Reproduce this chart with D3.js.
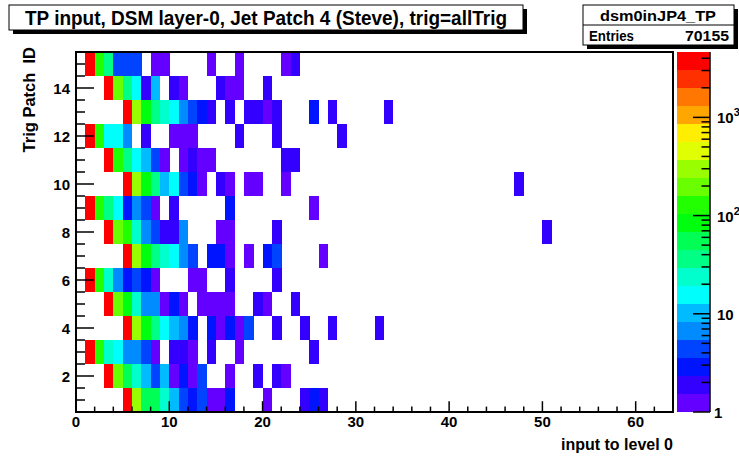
<!DOCTYPE html>
<html><head><meta charset="utf-8">
<script src="https://cdn.jsdelivr.net/npm/d3@7"></script>
<style>
html,body{margin:0;padding:0;background:#fff;}
svg text{font-family:"Liberation Sans",Arial,Helvetica,sans-serif;font-weight:bold;}
</style></head>
<body><svg id="c" width="739" height="459"></svg>
<script>
// ---------- data (counts per x bin, starting at x bin 0) ----------
const titleText = "TP input, DSM layer-0, Jet Patch 4 (Steve), trig=allTrig";
const histName = "dsm0inJP4_TP";
const entries = 70155;
const xTitle = "input to level 0";
const yTitle = "Trig Patch  ID";
const xTicks = [0, 10, 20, 30, 40, 50, 60];
const yTicks = [2, 4, 6, 8, 10, 12, 14];
const zTicks = [1, 10, 100, 1000];
const xDomain = [0, 64];
const yDomain = [0.5, 15.5];
const patchIds = [15, 14, 13, 12, 11, 10, 9, 8, 7, 6, 5, 4, 3, 2, 1];

const patch15 = [0,4210,130,37,4,4,4,0,1,1,0,0,0,0,1,0,0,1,0,0,0,0,1,2];
const patch14 = [0,0,0,4190,200,37,16,2,10,0,2,1,0,0,0,2,1,1,0,0,2];
const patch13 = [0,0,0,0,0,4170,305,86,37,24,16,7,4,3,2,0,2,0,2,2,1,2,0,0,0,3,0,2,0,0,0,0,0,2];
const patch12 = [0,4200,130,16,16,7,0,2,0,0,1,1,1,0,0,0,0,2,0,0,0,2,0,0,0,0,0,0,2];
const patch11 = [0,0,0,4180,130,37,16,10,4,1,0,1,2,1,1,0,0,0,0,0,0,0,2,2];
const patch10 = [0,0,0,0,0,4170,305,86,37,10,16,4,3,1,0,2,1,0,1,1,0,0,1,0,0,0,0,0,0,0,0,0,0,0,0,0,0,0,0,0,0,0,0,0,0,0,0,2];
const patch9  = [0,4200,130,37,16,3,7,4,1,0,2,0,0,0,0,0,3,0,0,0,0,0,0,0,0,1];
const patch8  = [0,0,0,4180,200,130,24,7,4,2,2,7,0,0,0,1,1,0,0,0,0,2,0,0,0,0,0,0,0,0,0,0,0,0,0,0,0,0,0,0,0,0,0,0,0,0,0,0,0,0,2];
const patch7  = [0,0,0,0,0,4160,305,86,37,24,16,7,4,0,3,3,1,0,1,0,3,4,0,0,0,0,1];
const patch6  = [0,4210,130,24,7,3,4,3,1,0,0,0,1,1,0,0,2,0,0,0,0,2];
const patch5  = [0,0,0,4190,200,86,24,7,7,1,3,1,0,1,1,1,1,0,0,2,1,0,0,2];
const patch4  = [0,0,0,0,0,4160,305,86,37,16,10,7,3,0,3,1,3,1,4,0,0,2,0,0,2,0,0,2,0,0,0,0,2];
const patch3  = [0,4200,130,24,16,7,7,4,1,0,2,2,1,0,2,0,0,1,0,0,0,0,0,0,0,2];
const patch2  = [0,0,0,4190,200,56,24,10,4,10,1,3,1,4,0,0,1,0,0,2,0,2,1];
const patch1  = [0,0,0,0,0,4170,305,56,56,24,10,4,3,4,1,1,3,0,0,0,1,0,0,0,2,3,2];
const rows = [patch15,patch14,patch13,patch12,patch11,patch10,patch9,patch8,patch7,patch6,patch5,patch4,patch3,patch2,patch1];

// ---------- layout ----------
const svg = d3.select("#c");
const L = 76, R = 673, T = 52, B = 412;
const x = d3.scaleLinear().domain(xDomain).range([L, R]);
const y = d3.scaleLinear().domain(yDomain).range([B, T]);

const cells = [];
rows.forEach((r, i) => r.forEach((v, j) => { if (v > 0) cells.push({x: j, y: patchIds[i], v}); }));
const zMax = d3.max(cells, d => d.v) * 1.1;
const nCont = 20, nCol = 50;
const logMax = Math.log10(zMax);
function band(v){ return Math.max(0, Math.min(nCont-1, Math.floor(Math.log10(v)/logMax*nCont))); }
function bandColor(k){
  const idx = Math.floor((k + 0.99) * nCol / nCont);
  const hue = 280 - (idx + 1) * (280 / nCol);
  return d3.hsl(hue, 1, 0.5).formatHex();
}

// cells
svg.append("g").selectAll("rect").data(cells).join("rect")
  .attr("x", d => x(d.x)).attr("y", d => y(d.y + 0.5))
  .attr("width", d => x(d.x + 1) - x(d.x) + 0.3)
  .attr("height", d => y(d.y - 0.5) - y(d.y + 0.5) + 0.3)
  .attr("fill", d => bandColor(band(d.v)))
  .attr("shape-rendering", "crispEdges");

// frame
svg.append("rect").attr("x", L).attr("y", T).attr("width", R-L).attr("height", B-T)
  .attr("fill", "none").attr("stroke", "#000").attr("stroke-width", 2);

// x axis ticks (inside, upward)
const xMinor = d3.range(0, 65, 2);
svg.append("g").selectAll("line").data(xMinor).join("line")
  .attr("x1", d => x(d)).attr("x2", d => x(d))
  .attr("y1", B).attr("y2", d => B - (d % 10 === 0 ? 10.8 : 5.4))
  .attr("stroke", "#000").attr("stroke-width", 1.5);
svg.append("g").selectAll("text").data(xTicks).join("text")
  .attr("x", d => x(d)).attr("y", 427).attr("text-anchor", "middle")
  .attr("font-size", 15).text(d => d);

// y axis ticks (inside, rightward)
const yMinor = d3.range(1, 15.6, 0.5);
svg.append("g").selectAll("line").data(yMinor).join("line")
  .attr("y1", d => y(d)).attr("y2", d => y(d))
  .attr("x1", L).attr("x2", d => L + (d % 2 === 0 ? 18 : 9))
  .attr("stroke", "#000").attr("stroke-width", 1.5);
svg.append("g").selectAll("text").data(yTicks).join("text")
  .attr("x", 70).attr("y", d => y(d) + 5.5).attr("text-anchor", "end")
  .attr("font-size", 15).text(d => d);

// axis titles
svg.append("text").attr("x", R).attr("y", 450).attr("text-anchor", "end")
  .attr("font-size", 16).text(xTitle);
svg.append("text").attr("transform", `translate(35,${T-5}) rotate(-90)`)
  .attr("text-anchor", "end").attr("font-size", 16.5)
  .style("white-space", "pre").text(yTitle);

// palette
const PL = 677, PR = 710;
const z = d3.scaleLog().domain([1, zMax]).range([B, T]);
const bands = d3.range(nCont);
svg.append("g").selectAll("rect").data(bands).join("rect")
  .attr("x", PL).attr("width", PR - PL)
  .attr("y", k => z(Math.pow(10, (k+1)*logMax/nCont)))
  .attr("height", k => z(Math.pow(10, k*logMax/nCont)) - z(Math.pow(10, (k+1)*logMax/nCont)) + 0.3)
  .attr("fill", k => bandColor(k)).attr("shape-rendering", "crispEdges");
svg.append("line").attr("x1", PR).attr("x2", PR).attr("y1", T).attr("y2", B)
  .attr("stroke", "#000").attr("stroke-width", 1.5);
const zMinor = [];
for (let dec = 1; dec <= 1000; dec *= 10) for (let m = 1; m <= 9; m++) { if (m*dec <= zMax) zMinor.push(m*dec); }
svg.append("g").selectAll("line").data(zMinor).join("line")
  .attr("y1", d => z(d)).attr("y2", d => z(d))
  .attr("x1", PR).attr("x2", d => PR - (zTicks.includes(d) ? 17 : 8.5))
  .attr("stroke", "#000").attr("stroke-width", 1.5);
const zl = svg.append("g").selectAll("text").data(zTicks).join("text")
  .attr("x", d => d === 1 ? 714 : 717).attr("y", d => z(d) + 6).attr("font-size", 15);
zl.each(function(d){
  const t = d3.select(this);
  if (d === 1) t.text("1");
  else if (d === 10) t.text("10");
  else {
    t.append("tspan").text("10");
    t.append("tspan").attr("dy", -7).attr("font-size", 11).text(Math.round(Math.log10(d)));
  }
});

// title box
function paveBox(x0, y0, w, h){
  svg.append("rect").attr("x", x0+4).attr("y", y0+4).attr("width", w).attr("height", h).attr("fill", "#000");
  svg.append("rect").attr("x", x0).attr("y", y0).attr("width", w).attr("height", h)
    .attr("fill", "#fff").attr("stroke", "#000").attr("stroke-width", 1);
}
paveBox(9, 5, 514, 25);
svg.append("text").attr("x", 266).attr("y", 24.5).attr("text-anchor", "middle")
  .attr("font-size", 20).attr("textLength", 482).attr("lengthAdjust", "spacingAndGlyphs").text(titleText);

// stats box
paveBox(583, 5, 151, 40);
svg.append("line").attr("x1", 583).attr("x2", 734).attr("y1", 25).attr("y2", 25).attr("stroke", "#000");
svg.append("text").attr("x", 658).attr("y", 21).attr("text-anchor", "middle").attr("font-size", 15)
  .attr("textLength", 116).attr("lengthAdjust", "spacingAndGlyphs").text(histName);
svg.append("text").attr("x", 589).attr("y", 41).attr("font-size", 15)
  .attr("textLength", 45).attr("lengthAdjust", "spacingAndGlyphs").text("Entries");
svg.append("text").attr("x", 729).attr("y", 41).attr("text-anchor", "end").attr("font-size", 15)
  .attr("textLength", 44).attr("lengthAdjust", "spacingAndGlyphs").text(entries);
</script></body></html>
